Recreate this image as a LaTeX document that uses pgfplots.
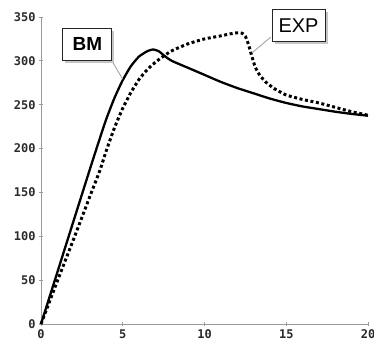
\documentclass[border=0pt]{standalone}
\usepackage{pgfplots}
\pgfplotsset{compat=1.18}
\usepackage{fontspec}
\setmainfont{Liberation Sans}
\newfontfamily\monofont{DejaVu Sans Mono}
\usetikzlibrary{shadows}
\definecolor{axgray}{HTML}{9A9A9A}
\definecolor{ticktxt}{HTML}{2A2A2A}
\begin{document}
\begin{tikzpicture}
\begin{axis}[
  scale only axis, width=327bp, height=307bp,
  xmin=0, xmax=20, ymin=0, ymax=350,
  axis x line=bottom, axis y line=left,
  axis line style={-, axgray, line width=1pt},
  tick style={axgray, line width=0.8pt},
  major tick length=4bp,
  xtick={0,5,10,15,20}, ytick={0,50,100,150,200,250,300,350},
  tick label style={font=\monofont\bfseries\fontsize{12}{13}\selectfont, text=ticktxt},
  /pgf/number format/assume math mode=true,
  clip=false,
]
\addplot[black, line width=2.3pt, smooth, tension=0.35] coordinates {
(0,0) (1,59) (2,118) (3,177) (3.5,206) (4,234) (4.5,258) (5,278) (5.5,294) (6,305) (6.5,311) (6.85,313) (7.2,311) (7.6,305) (8,300) (9,292) (10,284) (11,276) (12,269) (13,263) (14,257) (15,252) (16,248) (17,245) (18,242) (19,239.5) (20,237.5)
};
\addplot[black, line width=3pt, dash pattern=on 3pt off 2.6pt, smooth, tension=0.3] coordinates {
(0,0) (1,49) (2,97) (3,146) (3.6,175) (4,198) (4.5,224) (5,246) (5.5,264) (6,279) (6.5,290) (7,298.5) (7.5,305.5) (8,311.5) (9,319.5) (10,325) (11,328.5) (11.5,330.5) (12,332) (12.3,331.5) (12.5,328) (12.7,318) (12.9,305) (13.1,293) (13.4,283) (13.8,275) (14.3,268) (15,261) (16,256) (17,252) (18,247) (19,242) (20,238)
};
\draw[axgray, line width=0.8pt] (axis cs:4.4,298) -- (axis cs:5.0,279);
\draw[axgray, line width=0.8pt] (axis cs:14.05,327) -- (axis cs:12.9,309);
\node[draw=black!85, fill=white, line width=0.9pt, drop shadow={shadow xshift=2.5bp, shadow yshift=-2.5bp, opacity=0.45},
  minimum width=49bp, minimum height=32bp, inner sep=0pt, font=\bfseries\fontsize{19}{20}\selectfont]
  at (axis cs:2.84,319) {BM};
\node[draw=black!85, fill=white, line width=0.9pt, drop shadow={shadow xshift=2.5bp, shadow yshift=-2.5bp, opacity=0.45},
  minimum width=53bp, minimum height=32bp, inner sep=0pt, font=\fontsize{20}{21}\selectfont]
  at (axis cs:15.75,340) {EXP};
\end{axis}
\pgfresetboundingbox
\path (-41bp,-18bp) rectangle (333bp,324bp);
\end{tikzpicture}
\end{document}
